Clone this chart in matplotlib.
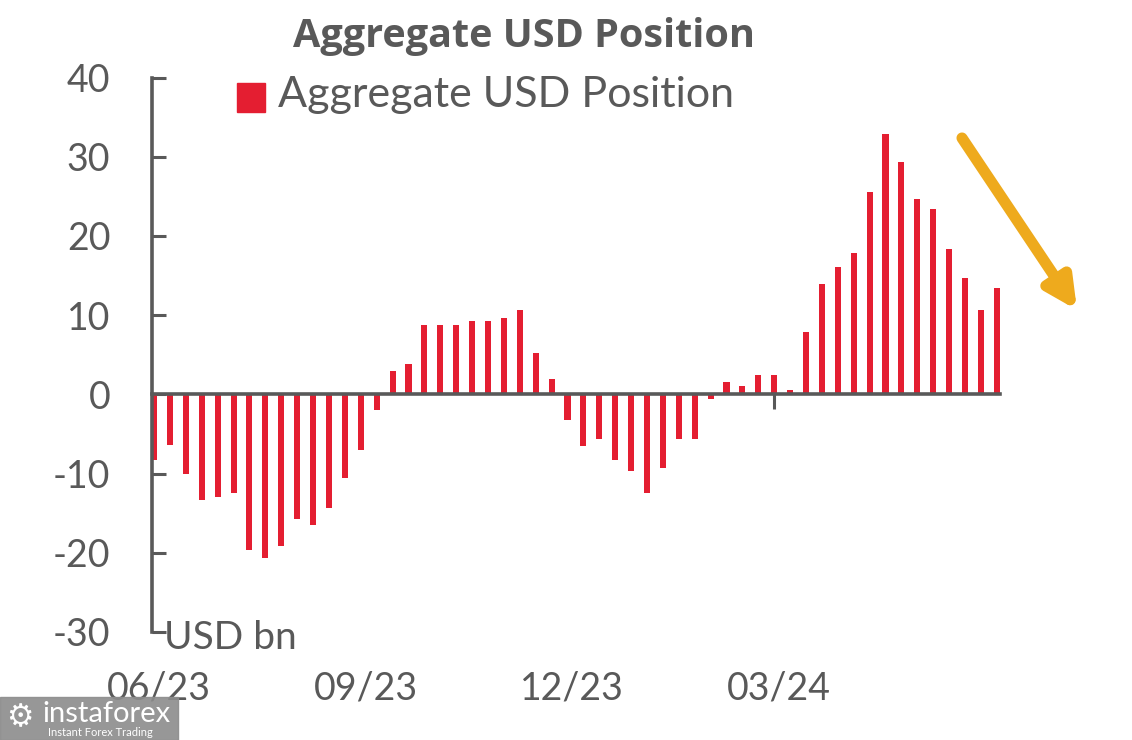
import numpy as np
import matplotlib
matplotlib.use("Agg")
import matplotlib.pyplot as plt
from matplotlib.patches import Rectangle

plt.rcParams['font.family'] = ['Lato', 'DejaVu Sans']
plt.rcParams['axes.unicode_minus'] = False

# weekly aggregate USD position, USD bn
usd_pos = [-8.3, -6.4, -10.1, -13.3, -12.9, -12.4, -19.7, -20.6, -19.2, -15.7,
           -16.5, -14.3, -10.6, -7.0, -2.0, 2.9, 3.8, 8.8, 8.8, 8.8,
           9.3, 9.3, 9.7, 10.7, 5.2, 2.0, -3.3, -6.5, -5.6, -8.3,
           -9.7, -12.4, -9.3, -5.6, -5.6, -0.6, 1.5, 1.05, 2.4, 2.4,
           0.55, 7.9, 13.9, 16.1, 17.9, 25.6, 32.9, 29.3, 24.7, 23.4,
           18.4, 14.7, 10.7, 13.4]
tick_weeks = [0, 13, 26, 39]
tick_labels = ['06/23', '09/23', '12/23', '03/24']
y_ticks = [-30, -20, -10, 0, 10, 20, 30, 40]

grey = '#595959'
red = '#E41E31'

W, H = 1132, 740
fig = plt.figure(figsize=(W / 100, H / 100), dpi=100)
ax = fig.add_axes([152 / W, 1 - 632 / H, (1000 - 152) / W, (632 - 77.5) / H])

x = np.arange(len(usd_pos))
ax.bar(x, usd_pos, width=0.38, color=red, zorder=2)

ax.set_xlim(-0.13, 53.2)
ax.set_ylim(-30, 40)

for s in ['top', 'right']:
    ax.spines[s].set_visible(False)
ax.spines['bottom'].set_position(('data', 0))
ax.spines['bottom'].set_color(grey)
ax.spines['bottom'].set_linewidth(2.6)
ax.spines['bottom'].set_zorder(3)
ax.spines['left'].set_color(grey)
ax.spines['left'].set_linewidth(2.6)

ax.set_yticks(y_ticks)
ax.tick_params(axis='y', direction='in', length=10, width=2.2, color=grey,
               labelsize=27, labelcolor=grey, pad=30)
ax.set_xticks(tick_weeks)
ax.set_xticklabels([])
ax.tick_params(axis='x', direction='out', length=11, width=2.2, color=grey)

for pos, lab in zip(tick_weeks, tick_labels):
    ax.text(pos + 0.3, -37.1, lab, ha='center', va='center', fontsize=27,
            color=grey)

ax.text(0.6, -32.2, 'USD bn', ha='left', va='baseline', fontsize=28,
        color=grey, clip_on=False)

# title + legend
fig.text(524 / W, 1 - 37 / H, 'Aggregate USD Position', ha='center',
         va='center', fontsize=28.5, fontweight='bold', color=grey,
         family=['Open Sans', 'DejaVu Sans'])
fig.patches.append(Rectangle((237 / W, 1 - 112 / H), 28 / W, 29 / H,
                             transform=fig.transFigure, color=red))
fig.text(278 / W, 1 - 95 / H, 'Aggregate USD Position', ha='left',
         va='center', fontsize=31, color=grey)

# trend arrow
ax.annotate('', xy=(1077 / W, 1 - 310 / H), xytext=(962 / W, 1 - 138 / H),
            xycoords='figure fraction', textcoords='figure fraction',
            arrowprops=dict(arrowstyle='-|>', color='#EEAA1D', lw=8,
                            mutation_scale=45, capstyle='round',
                            shrinkA=0, shrinkB=0))

# watermark
fig.patches.append(Rectangle((0, 0), 178 / W, 43 / H,
                             transform=fig.transFigure, color='#8c8c8c',
                             alpha=0.9))
fig.text(42 / W, 1 - 714 / H, 'instaforex', ha='left', va='center',
         fontsize=21, color='white')
fig.text(48 / W, 1 - 732 / H, 'Instant Forex Trading', ha='left',
         va='center', fontsize=8, color='white')
fig.text(20 / W, 1 - 718 / H, '\u2699', ha='center', va='center',
         fontsize=22, color='white', family=['DejaVu Sans'])

fig.savefig('out.png', dpi=100)
